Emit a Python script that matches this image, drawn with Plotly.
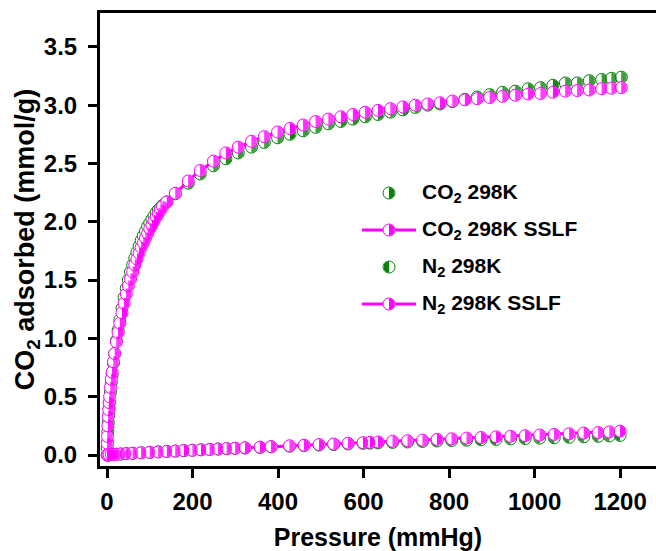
import plotly.graph_objects as go

# ---------------- data ----------------
co2_p = [0.5, 1, 2, 3, 4, 5, 6, 8, 10, 12, 15, 18, 22, 26, 30, 35, 40, 45, 50, 55,
         60, 65, 70, 75, 80, 85, 90, 95, 100, 105, 110, 115, 120, 125, 130, 140,
         160, 190, 218, 249, 278, 307, 338, 368, 399, 428, 459, 488, 518, 547, 575,
         604, 634, 663, 692, 721, 750, 779, 808, 837, 866, 895, 925, 955, 985, 1014,
         1043, 1072, 1100, 1128, 1157, 1180, 1203]
co2_exp = [0.06, 0.11, 0.20, 0.28, 0.34, 0.40, 0.45, 0.54, 0.62, 0.69, 0.79, 0.87, 0.98,
           1.07, 1.16, 1.26, 1.35, 1.43, 1.50, 1.57, 1.63, 1.69, 1.74, 1.79, 1.84, 1.88,
           1.92, 1.96, 1.99, 2.02, 2.05, 2.08, 2.10, 2.12, 2.14, 2.17, 2.24, 2.33, 2.41,
           2.48, 2.54, 2.59, 2.64, 2.68, 2.72, 2.75, 2.78, 2.81, 2.84, 2.86, 2.88, 2.90,
           2.92, 2.94, 2.96, 2.98, 3.00, 3.01, 3.03, 3.05, 3.07, 3.09, 3.11, 3.12, 3.14,
           3.15, 3.17, 3.19, 3.19, 3.21, 3.22, 3.23, 3.24]
co2_fit = [0.10, 0.16, 0.25, 0.33, 0.39, 0.45, 0.50, 0.58, 0.65, 0.71, 0.80, 0.87, 0.97,
           1.05, 1.13, 1.22, 1.30, 1.38, 1.45, 1.51, 1.57, 1.63, 1.68, 1.73, 1.78, 1.82,
           1.86, 1.90, 1.94, 1.97, 2.01, 2.04, 2.07, 2.10, 2.13, 2.17, 2.245, 2.35, 2.44,
           2.52, 2.59, 2.64, 2.69, 2.73, 2.77, 2.80, 2.83, 2.86, 2.88, 2.90, 2.92, 2.94,
           2.955, 2.97, 2.985, 3.00, 3.01, 3.02, 3.035, 3.045, 3.055, 3.065, 3.075, 3.085,
           3.095, 3.10, 3.11, 3.12, 3.125, 3.13, 3.14, 3.145, 3.15]

n2_p = [0.5, 2, 5, 10, 15, 22, 32, 45, 60, 80, 100, 120, 140, 160, 180, 200, 220, 240,
        260, 280, 300, 323, 358, 384, 427, 461, 496, 530, 564, 599, 615, 634, 668, 703,
        738, 772, 806, 841, 875, 910, 944, 978, 1012, 1046, 1081, 1115, 1149, 1175, 1200]
n2_exp = [0.000, 0.001, 0.002, 0.004, 0.005, 0.007, 0.009, 0.012, 0.015, 0.019, 0.023,
          0.027, 0.031, 0.034, 0.038, 0.041, 0.045, 0.048, 0.051, 0.054, 0.057, 0.060,
          0.066, 0.070, 0.076, 0.081, 0.086, 0.090, 0.095, 0.100, 0.102, 0.104, 0.108,
          0.112, 0.116, 0.120, 0.124, 0.127, 0.131, 0.134, 0.138, 0.141, 0.145, 0.148,
          0.152, 0.156, 0.160, 0.164, 0.168]
n2_fit = [0.000, 0.001, 0.002, 0.004, 0.005, 0.007, 0.009, 0.012, 0.015, 0.019, 0.023,
          0.027, 0.031, 0.034, 0.038, 0.041, 0.045, 0.048, 0.052, 0.055, 0.058, 0.062,
          0.068, 0.072, 0.079, 0.084, 0.090, 0.095, 0.101, 0.106, 0.109, 0.112, 0.118,
          0.123, 0.128, 0.134, 0.139, 0.145, 0.150, 0.156, 0.161, 0.166, 0.172, 0.177,
          0.182, 0.188, 0.193, 0.198, 0.205]

series_names = ["CO<sub>2</sub> 298K", "CO<sub>2</sub> 298K SSLF",
                "N<sub>2</sub> 298K", "N<sub>2</sub> 298K SSLF"]
x_ticks = [0, 200, 400, 600, 800, 1000, 1200]
y_ticks = [0.0, 0.5, 1.0, 1.5, 2.0, 2.5, 3.0, 3.5]

# ---------------- style ----------------
GREEN = "#088208"
MAGENTA = "#ff00ff"
FONT = "Liberation Sans"
MSIZE = 12                 # marker diameter (px)
HALF_R = 5.5               # radius of the filled half (px)
SLAB_OFFS = [0.5, 1.5, 2.5, 3.5, 4.5]   # 1-px vertical slabs building the half disc
RIGHT, LEFT = -90, 90      # marker angle that sends the standoff to the right / left
LINE_EW_FACTOR = 1.4       # plotly 'line-ew' length = 1.4 * size

W, H = 656, 551
L, R, T, B = 100, 0, 13, 85
PW, PH = W - L - R, H - T - B


def half_filled(x, y, color, side, xaxis="x", yaxis="y"):
    """White circle with coloured edge, plus one half filled (built of 1-px slabs)."""
    traces = [go.Scatter(x=x, y=y, mode="markers", xaxis=xaxis, yaxis=yaxis,
                         showlegend=False, hoverinfo="skip",
                         marker=dict(symbol="circle", size=MSIZE, color="white",
                                     line=dict(color=color, width=1)))]
    for off in SLAB_OFFS:
        length = 2 * (HALF_R ** 2 - off ** 2) ** 0.5
        traces.append(go.Scatter(
            x=x, y=y, mode="markers", xaxis=xaxis, yaxis=yaxis,
            showlegend=False, hoverinfo="skip",
            marker=dict(symbol="line-ew", size=length / LINE_EW_FACTOR,
                        angle=side, standoff=off, color=color,
                        line=dict(color=color, width=1))))
    return traces


fig = go.Figure()

# experimental data (under the fits)
fig.add_traces(half_filled(co2_p, co2_exp, GREEN, RIGHT))
fig.add_traces(half_filled(n2_p, n2_exp, GREEN, LEFT))
# SSLF fit lines + markers
for xs, ys in ((co2_p, co2_fit), (n2_p, n2_fit)):
    fig.add_trace(go.Scatter(x=xs, y=ys, mode="lines", showlegend=False,
                             line=dict(color=MAGENTA, width=3), hoverinfo="skip"))
    fig.add_traces(half_filled(xs, ys, MAGENTA, RIGHT))

# ---------------- legend (drawn on a hidden pixel-unit overlay axis) ----------------
leg_rows = [193, 230, 267, 304]        # row centres, px from top of figure
leg_marker_x, leg_line = 389, (362, 416)
leg_text_x = 420
leg_styles = [(GREEN, RIGHT, False), (MAGENTA, RIGHT, True),
              (GREEN, LEFT, False), (MAGENTA, RIGHT, True)]

for name, (col, side, has_line), yp in zip(series_names, leg_styles, leg_rows):
    yy = H - B - yp
    if has_line:
        fig.add_trace(go.Scatter(x=[leg_line[0] - L, leg_line[1] - L], y=[yy, yy],
                                 mode="lines", xaxis="x2", yaxis="y2", showlegend=False,
                                 hoverinfo="skip", line=dict(color=col, width=3)))
    fig.add_traces(half_filled([leg_marker_x - L], [yy], col, side, "x2", "y2"))
    fig.add_annotation(xref="x2", yref="y2", x=leg_text_x - L, y=yy, text=name,
                       showarrow=False, xanchor="left", yanchor="middle",
                       font=dict(family=FONT, size=21, color="black", weight="bold"))

fig.update_layout(
    width=W, height=H,
    margin=dict(l=L, r=R, t=T, b=B),
    plot_bgcolor="white", paper_bgcolor="white",
    font=dict(family=FONT, color="black", weight="bold"),
    showlegend=False,
    xaxis2=dict(overlaying="x", range=[0, PW], visible=False, fixedrange=True),
    yaxis2=dict(overlaying="y", range=[0, PH], visible=False, fixedrange=True),
)
fig.layout.xaxis.update(
    range=[-16.4, 1284], tickvals=x_ticks, ticktext=[str(v) for v in x_ticks],
    automargin=False,
    showline=True, linewidth=3, linecolor="black", mirror=True,
    ticks="outside", ticklen=9, tickwidth=3, tickcolor="black",
    ticklabelstandoff=3,
    showgrid=False, zeroline=False,
    tickfont=dict(family=FONT, size=24, color="black", weight="bold"),
    title=dict(text="Pressure (mmHg)", standoff=15,
               font=dict(family=FONT, size=25, color="black", weight="bold")),
)
fig.layout.yaxis.update(
    range=[-0.094, 3.79], tickvals=y_ticks, ticktext=["%.1f" % v for v in y_ticks],
    automargin=False,
    showline=True, linewidth=3, linecolor="black", mirror=False,
    ticks="outside", ticklen=9, tickwidth=3, tickcolor="black",
    ticklabelstandoff=6,
    showgrid=False, zeroline=False,
    tickfont=dict(family=FONT, size=24, color="black", weight="bold"),
    title=dict(text="CO<sub>2</sub> adsorbed (mmol/g)", standoff=1,
               font=dict(family=FONT, size=27, color="black", weight="bold")),
)

fig.write_html("out.html", config={"displayModeBar": False},
               post_script="document.body.style.margin='0';"
                           "document.body.style.overflow='hidden';")
